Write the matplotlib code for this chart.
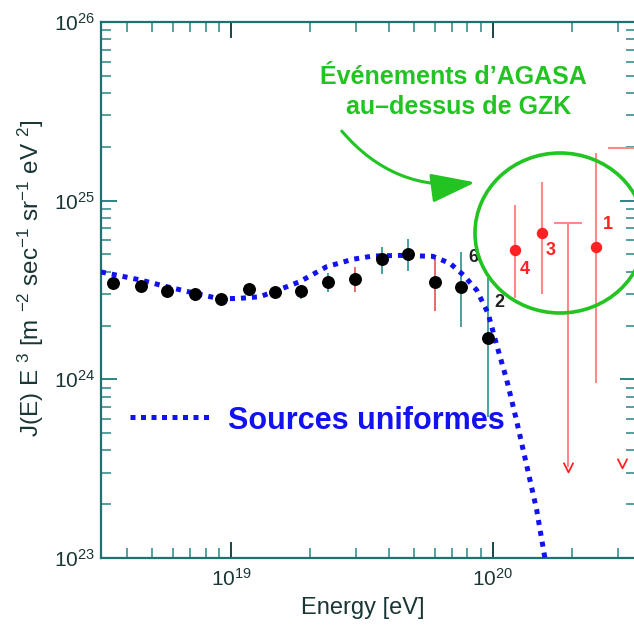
import matplotlib
matplotlib.use("Agg")
import matplotlib.pyplot as plt
from matplotlib.patches import Ellipse, FancyArrowPatch
from matplotlib.lines import Line2D
from matplotlib.path import Path
import matplotlib.ticker as mticker

# ---------------- data ----------------
# AGASA spectrum below the GZK cut-off (black points)
agasa_E = [3.56e18, 4.53e18, 5.72e18, 7.27e18, 9.18e18, 1.168e19, 1.468e19, 1.854e19,
           2.348e19, 2.97e19, 3.758e19, 4.74e19, 6.0e19, 7.58e19, 9.61e19]
agasa_J = [3.45e24, 3.34e24, 3.13e24, 3.00e24, 2.81e24, 3.19e24, 3.08e24, 3.13e24,
           3.51e24, 3.66e24, 4.70e24, 5.03e24, 3.52e24, 3.28e24, 1.70e24]
agasa_lo = [3.30e24, 3.20e24, 3.00e24, 2.87e24, 2.68e24, 3.02e24, 2.89e24, 2.82e24,
            3.08e24, 3.08e24, 3.89e24, 4.04e24, 2.42e24, 1.96e24, 6.15e23]
agasa_hi = [3.60e24, 3.48e24, 3.27e24, 3.14e24, 2.95e24, 3.37e24, 3.29e24, 3.37e24,
            3.94e24, 4.26e24, 5.51e24, 6.11e24, 4.97e24, 5.16e24, 3.69e24]
agasa_counts = ["", "", "", "", "", "", "", "", "", "", "", "", "", "6", "2"]

# AGASA events above GZK (red points)
gzk_E = [1.22e20, 1.54e20, 2.47e20]
gzk_J = [5.30e24, 6.56e24, 5.52e24]
gzk_lo = [2.85e24, 3.00e24, 9.55e23]
gzk_hi = [9.47e24, 1.28e25, 1.85e25]
gzk_counts = ["4", "3", "1"]

# upper limits (red)
ul_E = [1.94e20, 3.10e20]
ul_top = [7.54e24, 1.96e25]
ul_tip = [3.23e23, 3.40e23]

# model: uniform sources
model_E = [3.19e18, 4.50e18, 5.69e18, 7.16e18, 9.08e18, 1.08e19, 1.29e19, 1.54e19,
           1.83e19, 2.32e19, 2.92e19, 3.48e19, 4.42e19, 5.90e19, 6.86e19, 7.71e19,
           8.67e19, 9.59e19, 1.03e20, 1.13e20, 1.23e20, 1.35e20, 1.47e20, 1.58e20]
model_J = [3.99e24, 3.60e24, 3.30e24, 3.05e24, 2.82e24, 2.84e24, 2.90e24, 3.19e24,
           3.52e24, 4.27e24, 4.70e24, 4.90e24, 4.94e24, 4.88e24, 4.46e24, 3.84e24,
           3.16e24, 2.34e24, 1.59e24, 9.91e23, 5.92e23, 3.24e23, 1.86e23, 1.00e23]

model_label = "Sources uniformes"
annot_lines = ["Événements d\u2019AGASA", "au\u2013dessus de GZK"]
xlabel = "Energy [eV]"
ylabel = r"J(E) E $^{3}$ [m $^{-2}$ sec$^{-1}$ sr$^{-1}$ eV $^{2}$]"

# ---------------- style ----------------
plt.rcParams['font.family'] = ['Liberation Sans', 'DejaVu Sans']
plt.rcParams['mathtext.fontset'] = 'custom'
plt.rcParams['mathtext.rm'] = 'Liberation Sans'
plt.rcParams['mathtext.it'] = 'Liberation Sans:italic'
plt.rcParams['mathtext.bf'] = 'Liberation Sans:bold'

W, H = 634, 628
fig = plt.figure(figsize=(W / 100, H / 100), dpi=100)


def px(x, y):
    return (x / W, 1 - y / H)


left, right, top, bottom = 101, 636, 22, 558
ax = fig.add_axes([left / W, 1 - bottom / H, (right - left) / W, (bottom - top) / H])
ax.set_xscale('log')
ax.set_yscale('log')
ax.set_xlim(3.19e18, 3.52e20)
ax.set_ylim(1e23, 1e26)

teal = '#1f7070'
tick_col = '#2a8585'
text_col = '#1a3535'
blue = '#1212f0'
green = '#22c422'
red = '#ff2222'
pink = '#ff8888'

for s in ax.spines.values():
    s.set_color(teal)
    s.set_linewidth(1.6)

ax.xaxis.set_major_locator(mticker.LogLocator(base=10))
ax.xaxis.set_minor_locator(mticker.LogLocator(base=10, subs=range(2, 10)))
ax.yaxis.set_major_locator(mticker.LogLocator(base=10))
ax.yaxis.set_minor_locator(mticker.LogLocator(base=10, subs=range(2, 10)))
ax.xaxis.set_minor_formatter(mticker.NullFormatter())
ax.yaxis.set_minor_formatter(mticker.NullFormatter())

ax.tick_params(which='both', direction='in', top=True, right=True, colors=tick_col,
               labelcolor=text_col, labelsize=15)
ax.tick_params(which='major', length=11.5, width=1.4)
ax.tick_params(which='minor', length=7.5, width=1.1)
ax.tick_params(axis='x', which='major', pad=7, color='#1a4444')
ax.tick_params(axis='y', which='major', pad=4)

fig.text(*px(363, 608), xlabel, ha='center', va='center', fontsize=17, color=text_col)
fig.text(*px(31, 278), ylabel, rotation=90, ha='center', va='center', fontsize=17.5,
         color=text_col)

# model curve
ax.plot(model_E, model_J, color=blue, lw=3.6, linestyle=(0, (1.0, 1.2)),
        solid_capstyle='butt', dash_capstyle='butt', zorder=3)

# black points with error bars
bar_cols = ['#3a9a9a'] * 9 + ['#e06060', '#3a9a9a', '#3a9a9a', '#e06060', '#3a9a9a', '#3a9a9a']
for E, J, lo, hi, c in zip(agasa_E, agasa_J, agasa_lo, agasa_hi, bar_cols):
    ax.errorbar([E], [J], yerr=[[J - lo], [hi - J]], fmt='none', ecolor=c,
                elinewidth=1.3, capsize=0, zorder=2)
ax.plot(agasa_E, agasa_J, 'o', color='black', ms=8.3, zorder=4)
count_offsets = [(9, 21), (8, 26)]
k = 0
for E, J, lab in zip(agasa_E, agasa_J, agasa_counts):
    if lab:
        ax.annotate(lab, (E, J), xytext=count_offsets[k], textcoords='offset points',
                    ha='center', va='center', fontsize=13, fontweight='bold',
                    color='#202020', zorder=5)
        k += 1

# red points above GZK
for E, J, lo, hi in zip(gzk_E, gzk_J, gzk_lo, gzk_hi):
    ax.errorbar([E], [J], yerr=[[J - lo], [hi - J]], fmt='none', ecolor=pink,
                elinewidth=1.5, capsize=0, zorder=2)
ax.plot(gzk_E, gzk_J, 'o', color=red, ms=7.2, zorder=4)
red_offsets = [(7, -14), (6, -12), (9, 16)]
for E, J, lab, off in zip(gzk_E, gzk_J, gzk_counts, red_offsets):
    ax.annotate(lab, (E, J), xytext=off, textcoords='offset points', ha='center',
                va='center', fontsize=13, fontweight='bold', color=red, zorder=5)

# upper limits
vmark = Path([(-1, 1), (0, -1), (1, 1)], [Path.MOVETO, Path.LINETO, Path.LINETO])
ax.plot(ul_E, ul_top, '_', color=pink, ms=20, mew=1.5, zorder=2)
ax.vlines(ul_E[0], ul_tip[0], ul_top[0], color=pink, lw=1.5, zorder=2)
ax.plot(ul_E, ul_tip, ls='none', marker=vmark, ms=7, mfc='none', mec=red, mew=1.3,
        zorder=2)

# legend (manual)
fig.add_artist(Line2D([130 / W, 210 / W], [1 - 416.7 / H] * 2, color=blue, lw=3.6,
                      linestyle=(0, (1.0, 1.1)), dash_capstyle='butt'))
fig.text(*px(228, 429), model_label, ha='left', va='baseline', fontsize=22,
         fontweight='bold', color=blue)

# green annotation
fig.text(*px(453, 77), annot_lines[0], ha='center', va='center', fontsize=18,
         fontweight='bold', color=green)
fig.text(*px(459, 107), annot_lines[1], ha='center', va='center', fontsize=18,
         fontweight='bold', color=green)
ell = Ellipse(px(560, 233), width=170 / W, height=160 / H, transform=fig.transFigure,
              fill=False, ec=green, lw=2.6, zorder=6)
fig.add_artist(ell)
arr = FancyArrowPatch(px(340, 129), px(478, 182), transform=fig.transFigure,
                      connectionstyle='arc3,rad=0.28',
                      arrowstyle='-|>,head_length=1.37,head_width=0.45',
                      mutation_scale=20, color=green, lw=2.2)
fig.add_artist(arr)

fig.savefig('out.png', dpi=100)
